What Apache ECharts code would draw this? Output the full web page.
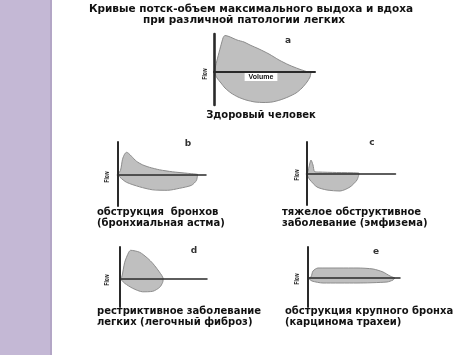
<!DOCTYPE html>
<html><head><meta charset="utf-8">
<script src="https://cdn.jsdelivr.net/npm/echarts@6/dist/echarts.min.js"></script>
<style>html,body{margin:0;padding:0;background:#fff}#c{width:474px;height:355px}</style>
</head><body><div id="c"></div>
<script>
// ---- data (volume, flow) ----
const titleLines = ['Кривые потск-объем максимального выдоха и вдоха', 'при различной патологии легких'];
const panelLetters = ['a', 'b', 'c', 'd', 'e'];
const captions = [
  ['Здоровый человек'],
  ['обструкция  бронхов', '(бронхиальная астма)'],
  ['тяжелое обструктивное', 'заболевание (эмфизема)'],
  ['рестриктивное заболевание', 'легких (легочный фиброз)'],
  ['обструкция крупного бронха', '(карцинома трахеи)']
];
const expA = [[0,0],[0.9,3.4],[1.1,3.65],[1.5,3.55],[2.3,3.2],[3.0,3.0],[3.6,2.7],[4.5,2.3],[5.5,1.8],[6.5,1.2],[7.5,0.7],[8.5,0.3],[9.4,0]];
const inspA = [[0,0],[0.3,-0.6],[0.7,-1.1],[1.1,-1.6],[1.7,-2.1],[2.4,-2.5],[3.2,-2.8],[4.1,-3.0],[5.0,-3.05],[5.8,-3.0],[6.6,-2.8],[7.4,-2.5],[8.2,-2.1],[8.8,-1.6],[9.3,-1.0],[9.6,-0.5],[9.7,0]];
const expB = [[0,0],[0.3,0.4],[0.5,1.5],[0.7,2.0],[0.9,2.2],[1.1,2.1],[1.4,1.8],[1.9,1.3],[2.5,0.95],[3.2,0.7],[4.2,0.45],[5.5,0.25],[7.0,0.1],[8.0,0]];
const inspB = [[0,0],[0.25,-0.3],[0.9,-0.8],[2.2,-1.25],[3.5,-1.55],[5.0,-1.6],[6.2,-1.4],[7.4,-1.1],[7.9,-0.6],[8.0,0]];
const expC = [[0,0],[0.1,0.1],[0.25,0.7],[0.45,1.4],[0.65,0.9],[0.8,0.25],[1.2,0.2],[3.0,0.15],[5.2,0.1],[5.3,0]];
const inspC = [[0,0],[0.1,-0.2],[0.35,-0.6],[1.05,-1.3],[2.05,-1.6],[3.35,-1.7],[4.35,-1.3],[5.05,-0.6],[5.25,0]];
const expD = [[0,0],[0.2,0.1],[0.5,1.6],[0.9,2.6],[1.1,2.8],[2.0,2.6],[2.8,2.0],[3.3,1.5],[3.7,1.0],[4.2,0.3],[4.35,0]];
const inspD = [[0,0],[0.2,-0.2],[0.5,-0.5],[1.3,-1.0],[2.3,-1.35],[3.3,-1.3],[4.0,-0.9],[4.3,-0.4],[4.35,0]];
const expE = [[0,0],[0.3,0.1],[0.5,0.7],[1.0,1.0],[3.2,1.0],[4.9,1.0],[6.5,0.9],[7.5,0.6],[8.2,0.2],[8.7,0]];
const inspE = [[0,0],[0.4,-0.3],[1.5,-0.5],[4.9,-0.5],[7.9,-0.4],[8.5,-0.2],[8.7,0]];

const expiration = [expA, expB, expC, expD, expE];
const inspiration = [inspA, inspB, inspC, inspD, inspE];

// ---- layout (pixels) ----
const SCALE = 10; // px per unit
const layout = [
  {ox:214, oy:72, top:34, bottom:105, right:315, vw:2.6, hw:2, cap:[261,115], align:'center', letter:[288,41], flow:[205,74]},
  {ox:117.5, oy:174.3, top:142, bottom:206, right:206, vw:2, hw:1.5, cap:[97,212], align:'left', letter:[188,144], flow:[107,177]},
  {ox:306.5, oy:174, top:142, bottom:205, right:395.5, vw:2, hw:1.5, cap:[282,212], align:'left', letter:[372,143], flow:[297,175]},
  {ox:119.7, oy:278.3, top:247, bottom:307, right:207, vw:2, hw:1.5, cap:[97,311], align:'left', letter:[194,251], flow:[107,280]},
  {ox:308, oy:278, top:247, bottom:307, right:400, vw:2, hw:1.5, cap:[285,311], align:'left', letter:[376,252], flow:[297,279]}
];
const FONT = '"DejaVu Sans", "Liberation Sans", sans-serif';
const FONT2 = '"Liberation Sans", Arial, sans-serif';

const grid = [], xAxis = [], yAxis = [], series = [], graphic = [];
layout.forEach((L, i) => {
  grid.push({left: L.ox, top: L.top, width: L.right - L.ox, height: L.bottom - L.top, containLabel: false});
  xAxis.push({type:'value', gridIndex:i, min:0, max:(L.right - L.ox)/SCALE, z:5,
    axisLine:{show:true, onZero:true, lineStyle:{color:'#2a2a2a', width:L.hw}},
    axisTick:{show:false}, axisLabel:{show:false}, splitLine:{show:false}});
  yAxis.push({type:'value', gridIndex:i, min:-(L.bottom - L.oy)/SCALE, max:(L.oy - L.top)/SCALE, z:6,
    axisLine:{show:true, onZero:false, lineStyle:{color:'#2a2a2a', width:L.vw}},
    axisTick:{show:false}, axisLabel:{show:false}, splitLine:{show:false}});
  [expiration[i], inspiration[i]].forEach(d => series.push({
    type:'line', xAxisIndex:i, yAxisIndex:i, data:d, symbol:'none', smooth:0.25, silent:true,
    lineStyle:{color:'#8c8c8c', width:1}, areaStyle:{color:'#bfbfbf', opacity:1}
  }));
  captions[i].forEach((t, k) => graphic.push({type:'text', x:L.cap[0], y:L.cap[1] + k*11.5,
    style:{text:t, fill:'#111', font:'bold 10px ' + FONT, textAlign:L.align, textVerticalAlign:'middle'}}));
  graphic.push({type:'text', x:L.letter[0], y:L.letter[1],
    style:{text:panelLetters[i], fill:'#333', font:'bold 9px ' + FONT, textAlign:'center', textVerticalAlign:'middle'}});
  graphic.push({type:'text', x:L.flow[0], y:L.flow[1], rotation:Math.PI/2, scaleX:0.7,
    style:{text:'Flow', fill:'#222', font:'bold 7px ' + FONT2, textAlign:'center', textVerticalAlign:'middle'}});
});
// sidebar
graphic.push({type:'rect', shape:{x:0, y:0, width:50, height:355}, style:{fill:'#c4b8d5'}, z:-1});
graphic.push({type:'rect', shape:{x:50, y:0, width:2, height:355}, style:{fill:'#b3a6c6'}, z:-1});
// title
graphic.push({type:'text', x:251, y:9, style:{text:titleLines[0], fill:'#111', font:'bold 10.5px ' + FONT, textAlign:'center', textVerticalAlign:'middle'}});
graphic.push({type:'text', x:244, y:20.5, style:{text:titleLines[1], fill:'#111', font:'bold 10.5px ' + FONT, textAlign:'center', textVerticalAlign:'middle'}});
// Volume label box
graphic.push({type:'text', x:261, y:77, z:10, style:{text:'Volume', fill:'#111', font:'bold 7px ' + FONT2,
  textAlign:'center', textVerticalAlign:'middle', backgroundColor:'#fff', padding:[1,4,0,4]}});

const chart = echarts.init(document.getElementById('c'), null, {renderer:'canvas'});
chart.setOption({animation:false, backgroundColor:'#fff', grid, xAxis, yAxis, series, graphic});
</script></body></html>
